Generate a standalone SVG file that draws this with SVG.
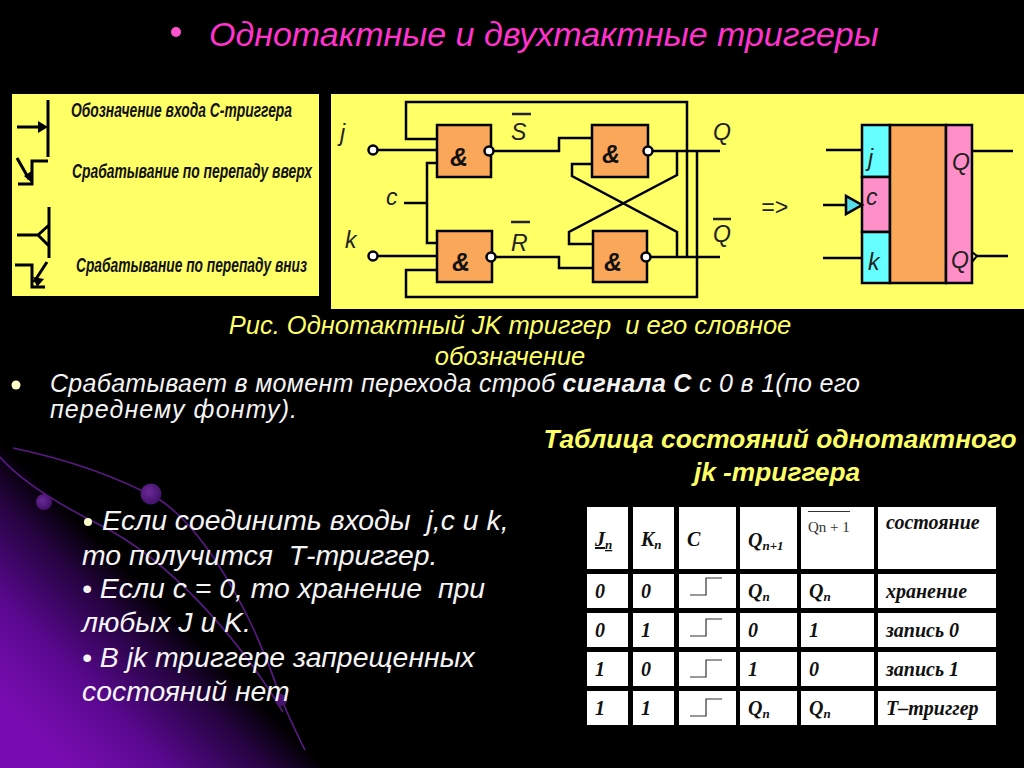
<svg xmlns="http://www.w3.org/2000/svg" xmlns:xlink="http://www.w3.org/1999/xlink" width="1024" height="768" viewBox="0 0 1024 768">
<style>
.w{fill:none;stroke:#000;stroke-width:2.5}
.wt{fill:none;stroke:#000;stroke-width:3}
.g{fill:#fba75a;stroke:#000;stroke-width:2.5}
.b{fill:#fff;stroke:#000;stroke-width:2.5}
.cl{font-family:"Liberation Sans",Arial,sans-serif;font-style:italic;fill:#222;font-size:23px}
.amp{font-family:"Liberation Sans",Arial,sans-serif;font-style:italic;font-weight:bold;fill:#111;font-size:25px}
.nar{font-family:"Liberation Sans Narrow","Liberation Sans",sans-serif;font-style:italic;font-weight:bold;font-size:20px;fill:#111}
.wh{font-family:"Liberation Sans",Arial,sans-serif;font-style:italic;fill:#f4f4f4}
.yl{font-family:"Liberation Sans",Arial,sans-serif;font-style:italic;fill:#ffff66}
.t{font-family:"Liberation Serif","Times New Roman",serif;font-style:italic;font-weight:bold;font-size:20px;fill:#111}
.s{font-size:13px}
.c{fill:#fff}
.arc{fill:none;stroke:#5a1a85;stroke-width:1.6}
</style>
<defs>
<linearGradient id="pg" gradientUnits="userSpaceOnUse" x1="0" y1="700" x2="130" y2="570">
<stop offset="0" stop-color="#7a0db2"/><stop offset="0.385" stop-color="#5a0890"/><stop offset="0.58" stop-color="#3f0668"/><stop offset="0.77" stop-color="#250340"/><stop offset="1" stop-color="#000"/>
</linearGradient>
<radialGradient id="dot" cx="0.4" cy="0.4" r="0.7"><stop offset="0" stop-color="#6a2a98"/><stop offset="1" stop-color="#3c0d62"/></radialGradient>
<g id="step"><polyline points="690,595 706,595 706,578 722,578" fill="none" stroke="#333" stroke-width="1.2"/></g>
</defs>
<rect width="1024" height="768" fill="#000"/>
<g id="background">
<rect x="0" y="430" width="340" height="338" fill="url(#pg)"/>
<path class="arc" d="M13,448 C70,460 120,478 160,500 C205,530 250,610 277,687 C285,710 295,730 305,750"/>
<path class="arc" d="M0,457 C20,480 60,505 100,525 C170,560 240,640 283,712"/>
<circle cx="151" cy="494" r="10.5" fill="url(#dot)"/>
<circle cx="44" cy="502" r="8" fill="url(#dot)"/>
<circle cx="281" cy="700" r="6" fill="#4a1570"/>
</g>
<g id="title">
<circle cx="176" cy="32" r="5" fill="#ff55cc"/>
<text x="209" y="46" font-family="'Liberation Sans',Arial,sans-serif" font-style="italic" font-size="34" fill="#ff33cc">Однотактные и двухтактные триггеры</text>
</g>
<g id="legend">
<rect x="12" y="94" width="307" height="202" fill="#ffff66"/>
<path class="wt" d="M48,100V157M17,127H40M48,161H32V184H18M17,158L29,179M49,207V258M17,235H38L49,225M38,235L49,246M15,265H32V287H45M47,262L34,282"/>
<path d="M38,121L48,127L38,133Z M24,176L32,183L33,170Z M37,287L33,277L44,279Z" fill="#000"/>
<text class="nar" x="71" y="117" textLength="221" lengthAdjust="spacingAndGlyphs">Обозначение входа С-триггера</text>
<text class="nar" x="72" y="178" textLength="240" lengthAdjust="spacingAndGlyphs">Срабатывание по перепаду вверх</text>
<text class="nar" x="76" y="272" textLength="231" lengthAdjust="spacingAndGlyphs">Срабатывание по перепаду вниз</text>
</g>
<rect id="circuit-panel" x="331" y="94" width="693" height="215" fill="#ffff66"/>
<g id="connectors">
<path class="w" d="M437,139H406V102H687V257"/>
<path class="w" d="M373,150H437"/>
<path class="w" d="M404,203H427M437,163H427V243H437"/>
<path class="w" d="M373,256H437"/>
<path class="w" d="M437,270H406V297H697V151"/>
<path class="w" d="M489,151H559V138H592"/>
<path class="w" d="M592,164H572V176L677,232V257"/>
<path class="w" d="M593,244H569V232L677,175V151"/>
<path class="w" d="M648,151H720"/>
<path class="w" d="M646,257H720"/>
<path class="w" d="M491,257H559V268H593"/>
<path class="w" d="M826,150H862M823,205H846M823,258H862M972,151H1013M977,256H1008"/>
</g>
<g id="gate-1"><rect class="g" x="437" y="125" width="54" height="52"/><text class="amp" x="450" y="166">&amp;</text><circle class="b" cx="489" cy="151" r="4.5"/></g>
<g id="gate-2"><rect class="g" x="592" y="125" width="56" height="52"/><text class="amp" x="602" y="163">&amp;</text><circle class="b" cx="648" cy="151" r="4.5"/></g>
<g id="gate-3"><rect class="g" x="437" y="231" width="55" height="51"/><text class="amp" x="452" y="271">&amp;</text><circle class="b" cx="491" cy="257" r="4.5"/></g>
<g id="gate-4"><rect class="g" x="593" y="231" width="54" height="51"/><text class="amp" x="604" y="271">&amp;</text><circle class="b" cx="646" cy="257" r="4.5"/></g>
<g id="terminals"><circle class="b" cx="373" cy="150" r="4.5"/><circle class="b" cx="373" cy="256" r="4.5"/></g>
<g id="circuit-labels">
<text class="cl" x="340" y="141">j</text>
<text class="cl" x="386" y="205">c</text>
<text class="cl" x="345" y="248">k</text>
<text class="cl" x="511" y="140">S</text><path d="M512,114H531M511,222H530M713,219H731" stroke="#222" stroke-width="2.5"/>
<text class="cl" x="511" y="251">R</text>
<text class="cl" x="713" y="140">Q</text>
<text class="cl" x="713" y="242">Q</text>
<text class="cl" x="761" y="215" font-size="18">=&gt;</text>
</g>
<g id="jk-symbol">
<rect x="862" y="125" width="28" height="52" fill="#66ffff" stroke="#000" stroke-width="2.5"/>
<rect x="862" y="177" width="28" height="55" fill="#ff8fc8" stroke="#000" stroke-width="2.5"/>
<rect x="862" y="232" width="28" height="51" fill="#66ffff" stroke="#000" stroke-width="2.5"/>
<rect x="890" y="125" width="56" height="158" fill="#fba75a" stroke="#000" stroke-width="2.5"/>
<rect x="946" y="125" width="26" height="158" fill="#ff8fc8" stroke="#000" stroke-width="2.5"/>
<path d="M846,196V214L862,205Z" fill="#55dde8" stroke="#000" stroke-width="2.5"/>
<path d="M972,252L977,256L972,262" fill="none" stroke="#000" stroke-width="2"/>
<text class="cl" x="868" y="166">j</text>
<text class="cl" x="866" y="205">c</text>
<text class="cl" x="868" y="270">k</text>
<text class="cl" x="952" y="170">Q</text>
<text class="cl" x="951" y="268">Q</text>
</g>
<g id="caption">
<text class="yl" x="510" y="334" font-size="25.500" text-anchor="middle" xml:space="preserve">Рис. Однотактный JK триггер  и его словное</text>
<text class="yl" x="510" y="365" font-size="25.500" text-anchor="middle">обозначение</text>
</g>
<g id="note">
<circle cx="16" cy="385" r="4.5" fill="#ffffcc"/>
<text class="wh" x="50" y="392" font-size="25" textLength="810">Срабатывает в момент перехода строб <tspan font-weight="bold">сигнала С</tspan> с 0 в 1(по его</text>
<text class="wh" x="50" y="418" font-size="25" textLength="247">переднему фонту).</text>
</g>
<g id="table-title">
<text class="yl" x="780" y="448" font-size="26.300" font-weight="bold" text-anchor="middle">Таблица состояний однотактного</text>
<text class="yl" x="777" y="481" font-size="26.300" font-weight="bold" text-anchor="middle">jk -триггера</text>
</g>
<g id="bullets">
<circle cx="88" cy="522" r="4" fill="#ffffcc"/>
<text class="wh" x="102" y="530" font-size="28.400" xml:space="preserve">Если соединить входы  j,c и k,</text>
<text class="wh" x="82" y="565" font-size="28.400" xml:space="preserve">то получится  Т-триггер.</text>
<text class="wh" x="82" y="598" font-size="28.400" xml:space="preserve">• Если с = 0, то хранение  при</text>
<text class="wh" x="82" y="632" font-size="28.400">любых J и K.</text>
<text class="wh" x="82" y="667" font-size="28.400">• В jk триггере запрещенных</text>
<text class="wh" x="82" y="701" font-size="28.400">состояний нет</text>
</g>
<g id="state-table">
<g id="cells">
<rect class="c" x="587" y="507" width="41" height="62"/><rect class="c" x="633" y="507" width="41" height="62"/><rect class="c" x="679" y="507" width="57" height="62"/><rect class="c" x="740" y="507" width="57" height="62"/><rect class="c" x="801" y="507" width="73" height="62"/><rect class="c" x="878" y="507" width="118" height="62"/>
<rect class="c" x="587" y="574" width="41" height="34"/><rect class="c" x="633" y="574" width="41" height="34"/><rect class="c" x="679" y="574" width="57" height="34"/><rect class="c" x="740" y="574" width="57" height="34"/><rect class="c" x="801" y="574" width="73" height="34"/><rect class="c" x="878" y="574" width="118" height="34"/>
<rect class="c" x="587" y="613" width="41" height="34"/><rect class="c" x="633" y="613" width="41" height="34"/><rect class="c" x="679" y="613" width="57" height="34"/><rect class="c" x="740" y="613" width="57" height="34"/><rect class="c" x="801" y="613" width="73" height="34"/><rect class="c" x="878" y="613" width="118" height="34"/>
<rect class="c" x="587" y="652" width="41" height="34"/><rect class="c" x="633" y="652" width="41" height="34"/><rect class="c" x="679" y="652" width="57" height="34"/><rect class="c" x="740" y="652" width="57" height="34"/><rect class="c" x="801" y="652" width="73" height="34"/><rect class="c" x="878" y="652" width="118" height="34"/>
<rect class="c" x="587" y="691" width="41" height="34"/><rect class="c" x="633" y="691" width="41" height="34"/><rect class="c" x="679" y="691" width="57" height="34"/><rect class="c" x="740" y="691" width="57" height="34"/><rect class="c" x="801" y="691" width="73" height="34"/><rect class="c" x="878" y="691" width="118" height="34"/>
</g>
<text class="t" x="595" y="546" text-decoration="underline">J<tspan class="s" dy="3">n</tspan></text>
<text class="t" x="641" y="546">K<tspan class="s" dy="3">n</tspan></text>
<text class="t" x="687" y="546">C</text>
<text class="t" x="748" y="547">Q<tspan class="s" dy="3">n+1</tspan></text>
<path d="M808,511.500H850" stroke="#333" stroke-width="1"/>
<text x="808" y="532" font-family="'Liberation Serif',serif" font-size="15" fill="#333">Qn + 1</text>
<text class="t" x="886" y="529">состояние</text>
<use xlink:href="#step"/><use xlink:href="#step" y="41"/><use xlink:href="#step" y="82"/><use xlink:href="#step" y="121"/>
<text class="t" x="595" y="598">0</text><text class="t" x="641" y="598">0</text><text class="t" x="748" y="598">Q<tspan class="s" dy="3">n</tspan></text><text class="t" x="809" y="598">Q<tspan class="s" dy="3">n</tspan></text><text class="t" x="886" y="598">хранение</text>
<text class="t" x="595" y="637">0</text><text class="t" x="641" y="637">1</text><text class="t" x="748" y="637">0</text><text class="t" x="809" y="637">1</text><text class="t" x="886" y="637">запись 0</text>
<text class="t" x="595" y="676">1</text><text class="t" x="641" y="676">0</text><text class="t" x="748" y="676">1</text><text class="t" x="809" y="676">0</text><text class="t" x="886" y="676">запись 1</text>
<text class="t" x="595" y="715">1</text><text class="t" x="641" y="715">1</text><text class="t" x="748" y="715">Q<tspan class="s" dy="3">n</tspan></text><text class="t" x="809" y="715">Q<tspan class="s" dy="3">n</tspan></text><text class="t" x="886" y="715">Т–триггер</text>
</g>
</svg>
